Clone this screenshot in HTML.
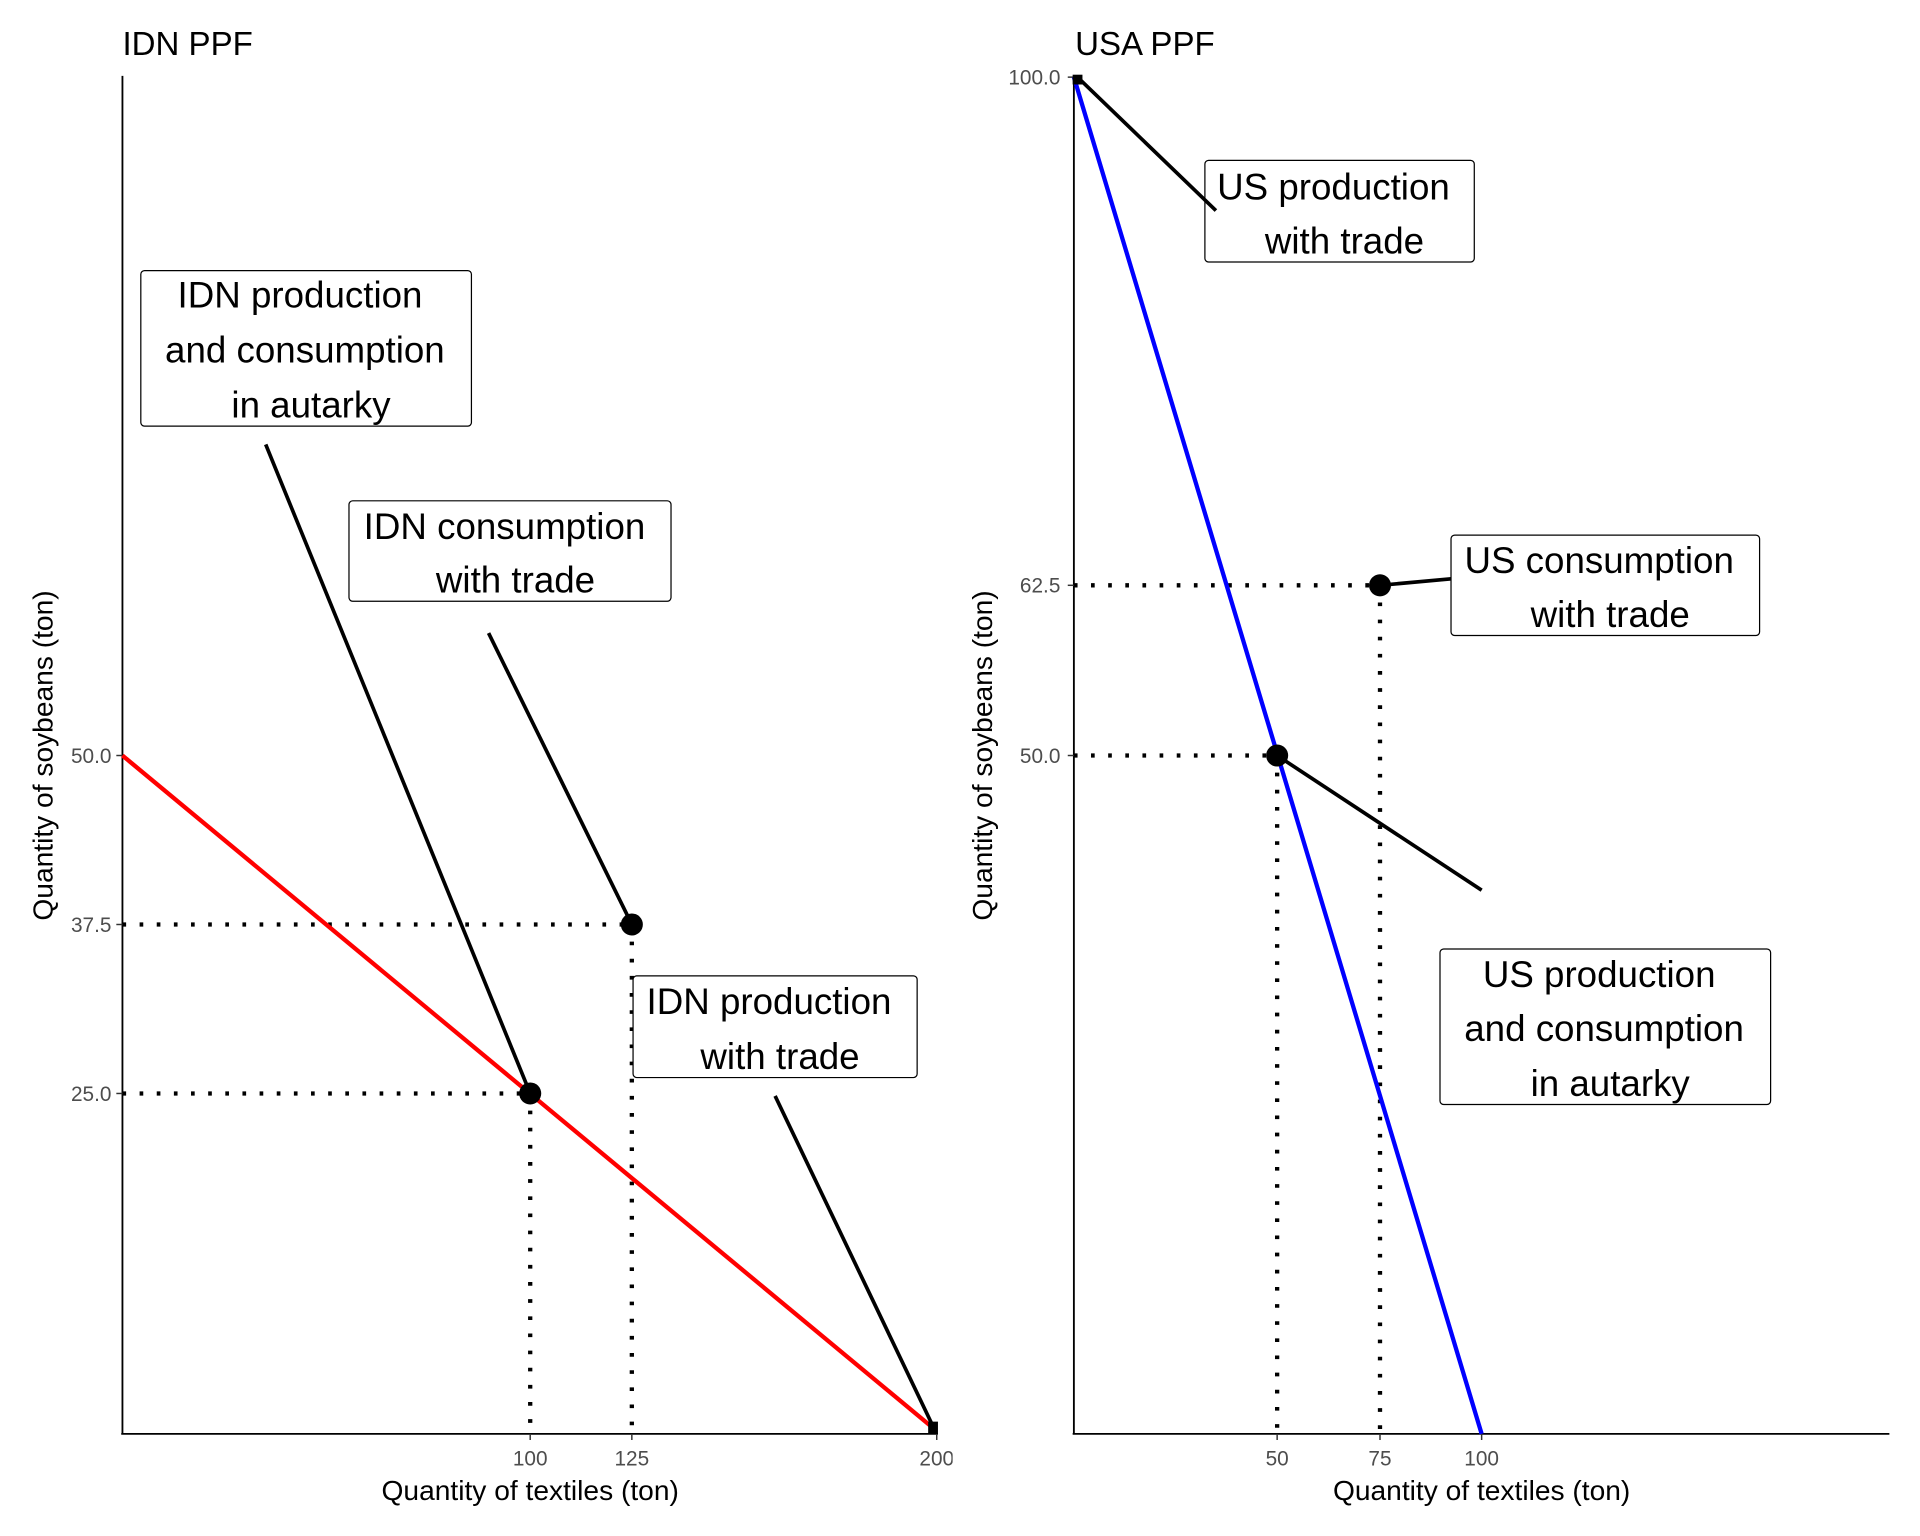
<!DOCTYPE html>
<html><head><style>html,body{margin:0;padding:0;background:#fff}svg{display:block}</style></head>
<body>
<svg width="1920" height="1536" viewBox="0 0 1568 1254.4" preserveAspectRatio="none" xmlns="http://www.w3.org/2000/svg" font-family="Liberation Sans, sans-serif">
<rect width="1568" height="1255" fill="#fff"/>
<!-- LEFT PANEL -->
<text x="100" y="45" font-size="27">IDN PPF</text>
<line x1="100" y1="62" x2="100" y2="1171" stroke="#000" stroke-width="1.5"/>
<line x1="99" y1="1171" x2="766" y2="1171" stroke="#000" stroke-width="1.5"/>
<g stroke="#333" stroke-width="1.2">
<line x1="95" y1="617" x2="100" y2="617"/><line x1="95" y1="755" x2="100" y2="755"/><line x1="95" y1="893" x2="100" y2="893"/>
<line x1="433" y1="1171" x2="433" y2="1176"/><line x1="516" y1="1171" x2="516" y2="1176"/><line x1="765" y1="1171" x2="765" y2="1176"/>
</g>
<g font-size="17" fill="#4d4d4d" text-anchor="end">
<text x="91" y="623">50.0</text><text x="91" y="761">37.5</text><text x="91" y="899">25.0</text>
</g>
<g font-size="17" fill="#4d4d4d" text-anchor="middle">
<text x="433" y="1197">100</text><text x="516" y="1197">125</text><text x="765" y="1197">200</text>
</g>
<rect x="778" y="1178" width="20" height="25" fill="#fff"/>
<text x="433" y="1225" font-size="23" text-anchor="middle">Quantity of textiles (ton)</text>
<text transform="translate(43,617) rotate(-90)" font-size="23" text-anchor="middle">Quantity of soybeans (ton)</text>
<g stroke="#000" stroke-width="3.5" stroke-dasharray="3,11" fill="none">
<line x1="100" y1="893" x2="433" y2="893"/><line x1="433" y1="893" x2="433" y2="1171"/>
<line x1="100" y1="755" x2="516" y2="755"/><line x1="516" y1="755" x2="516" y2="1171"/>
</g>
<line x1="100" y1="617" x2="763" y2="1167" stroke="#f00" stroke-width="3.5"/>
<g stroke="#000" stroke-width="3">
<line x1="217" y1="363" x2="433" y2="893"/>
<line x1="399" y1="517" x2="516" y2="755"/>
<line x1="633" y1="895" x2="763" y2="1167"/>
</g>
<circle cx="433" cy="893" r="9" fill="#000"/><circle cx="516" cy="755" r="9" fill="#000"/>
<rect x="758" y="1161" width="8" height="10" fill="#000"/>
<g fill="#fff" stroke="#000" stroke-width="1">
<rect x="115" y="221" width="270" height="127" rx="3"/>
<rect x="285" y="409" width="263" height="82" rx="3"/>
<rect x="517" y="797" width="232" height="83" rx="3"/>
</g>
<g font-size="30" text-anchor="middle">
<text x="245" y="251">IDN production</text><text x="249" y="296">and consumption</text><text x="254" y="341">in autarky</text>
<text x="412" y="440">IDN consumption</text><text x="421" y="484">with trade</text>
<text x="628" y="828">IDN production</text><text x="637" y="873">with trade</text>
</g>
<!-- RIGHT PANEL -->
<text x="878" y="45" font-size="27">USA PPF</text>
<line x1="877" y1="62" x2="877" y2="1171" stroke="#000" stroke-width="1.5"/>
<line x1="876" y1="1171" x2="1543" y2="1171" stroke="#000" stroke-width="1.5"/>
<g stroke="#333" stroke-width="1.2">
<line x1="872" y1="63" x2="877" y2="63"/><line x1="872" y1="478" x2="877" y2="478"/><line x1="872" y1="617" x2="877" y2="617"/>
<line x1="1043" y1="1171" x2="1043" y2="1176"/><line x1="1127" y1="1171" x2="1127" y2="1176"/><line x1="1210" y1="1171" x2="1210" y2="1176"/>
</g>
<g font-size="17" fill="#4d4d4d" text-anchor="end">
<text x="866" y="69">100.0</text><text x="866" y="484">62.5</text><text x="866" y="623">50.0</text>
</g>
<g font-size="17" fill="#4d4d4d" text-anchor="middle">
<text x="1043" y="1197">50</text><text x="1127" y="1197">75</text><text x="1210" y="1197">100</text>
</g>
<text x="1210" y="1225" font-size="23" text-anchor="middle">Quantity of textiles (ton)</text>
<text transform="translate(810,617) rotate(-90)" font-size="23" text-anchor="middle">Quantity of soybeans (ton)</text>
<g stroke="#000" stroke-width="3.5" stroke-dasharray="3,11" fill="none">
<line x1="877" y1="617" x2="1043" y2="617"/><line x1="1043" y1="617" x2="1043" y2="1171"/>
<line x1="877" y1="478" x2="1127" y2="478"/><line x1="1127" y1="478" x2="1127" y2="1171"/>
</g>
<line x1="877" y1="63" x2="1210" y2="1171" stroke="#00f" stroke-width="3.5"/>
<g stroke="#000" stroke-width="3">
<line x1="1127" y1="478" x2="1193" y2="472"/>
<line x1="1043" y1="617" x2="1210" y2="727"/>
</g>
<circle cx="1043" cy="617" r="9" fill="#000"/><circle cx="1127" cy="478" r="9" fill="#000"/>
<rect x="876" y="61" width="8" height="8" fill="#000"/>
<g fill="#fff" stroke="#000" stroke-width="1">
<rect x="984" y="131" width="220" height="83" rx="3"/>
<rect x="1185" y="437" width="252" height="82" rx="3"/>
<rect x="1176" y="775" width="270" height="127" rx="3"/>
</g>
<line x1="880" y1="63" x2="993" y2="172" stroke="#000" stroke-width="3"/>
<g font-size="30" text-anchor="middle">
<text x="1089" y="163">US production</text><text x="1098" y="207">with trade</text>
<text x="1306" y="468">US consumption</text><text x="1315" y="512">with trade</text>
<text x="1306" y="806">US production</text><text x="1310" y="850">and consumption</text><text x="1315" y="895">in autarky</text>
</g>
</svg>
</body></html>
